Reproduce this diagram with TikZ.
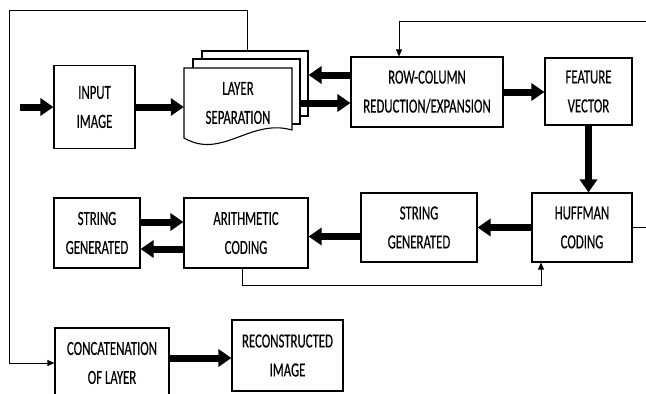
\documentclass[tikz,border=0pt]{standalone}
\usepackage{fontspec}
\setmainfont{Carlito}[FakeStretch=0.64, FakeBold=0.3]
\usetikzlibrary{arrows.meta}
\usetikzlibrary{positioning}
\tikzset{txt/.style = {align=center, inner sep=0, font=\fontsize{20}{29}\selectfont}}
\tikzset{blk/.style = {txt, draw, line width=1.1pt, fill=white}}
\tikzset{page/.style = {draw, line width=1.1pt, fill=white, inner sep=0}}
\tikzset{fat/.style = {line width=7pt, -{Triangle[length=13pt, width=17pt]}}}
\tikzset{wire/.style = {line width=0.8pt, -{Triangle[length=7pt, width=6pt]}}}
\begin{document}
\begin{tikzpicture}[x=1pt, y=-1pt]
\useasboundingbox (0,0) rectangle (646,394);

% stacked pages
\node [page, minimum width=106pt, minimum height=65pt] (layerC) at (255, 83.5) {};
\node [page, minimum width=107pt, minimum height=65pt] (layerB) at (246.5, 91.5) {};
\draw [line width=1.1pt, fill=white] (184,68) -- (292,68) -- (292,130) .. controls (250,118) and (222,160) .. (184,138) -- cycle;
\node [txt, minimum width=108pt] (layer) at (238,103) {LAYER\\SEPARATION};

\node [blk, minimum width=81pt, minimum height=83pt] (input) at (94.5,107) {INPUT\\IMAGE};
\node [blk, minimum width=152pt, minimum height=70pt] (rowcol) at (427,92) {ROW-COLUMN\\REDUCTION/EXPANSION};
\node [blk, minimum width=87pt, minimum height=67pt] (feature) at (588.5,91.5) {FEATURE\\VECTOR};
\node [blk, minimum width=100pt, minimum height=69pt] (huffman) at (582,227.5) {HUFFMAN\\CODING};
\node [blk, minimum width=116pt, minimum height=69pt] (stringB) at (419,227.5) {STRING\\GENERATED};
\node [blk, minimum width=124pt, minimum height=70pt] (arith) at (246,233) {ARITHMETIC\\CODING};
\node [blk, minimum width=86pt, minimum height=70pt] (stringA) at (97,233) {STRING\\GENERATED};
\node [blk, minimum width=114pt, minimum height=70pt] (concat) at (112,363) {CONCATENATION\\OF LAYER};
\node [blk, minimum width=111pt, minimum height=71pt] (recon) at (287.5,355.5) {RECONSTRUCTED\\IMAGE};

% thick arrows
\coordinate (start) at (20,107);
\draw [fat] (start) -- (input.west);
\draw [fat] (input.east) -- (input.east -| layer.west);
\coordinate (back) at ([yshift=17pt]rowcol.west);
\draw [fat] (back) -- (back -| layerC.east);
\coordinate (fwd) at ([yshift=-11pt]rowcol.west);
\draw [fat] (fwd -| layerB.east) -- (fwd);
\draw [fat] (rowcol.east) -- (rowcol.east -| feature.west);
\draw [fat] (feature.south) -- (feature.south |- huffman.north);
\draw [fat] (huffman.west) -- (huffman.west -| stringB.east);
\coordinate (sg) at ([yshift=-9pt]stringB.west);
\draw [fat] (sg) -- (sg -| arith.east);
\coordinate (up) at ([yshift=11pt]stringA.east);
\draw [fat] (up) -- (up -| arith.west);
\coordinate (dn) at ([yshift=-16pt]arith.west);
\draw [fat] (dn) -- (dn -| stringA.east);
\coordinate (cr) at ([yshift=5pt]concat.east);
\draw [fat] (cr) -- (cr -| recon.west);

% thin loops
\coordinate (corner) at (9,10);
\draw [wire] ([xshift=-8pt]layerC.north) |- (corner) |- (concat.west);
\coordinate (edge) at (648,21);
\draw [wire] (huffman.east) -| (edge) -| ([xshift=-28pt]rowcol.north);
\draw [wire] ([xshift=-4pt]arith.south) -- ++(0,17) -| ([xshift=-41pt]huffman.south);
\end{tikzpicture}
\end{document}
